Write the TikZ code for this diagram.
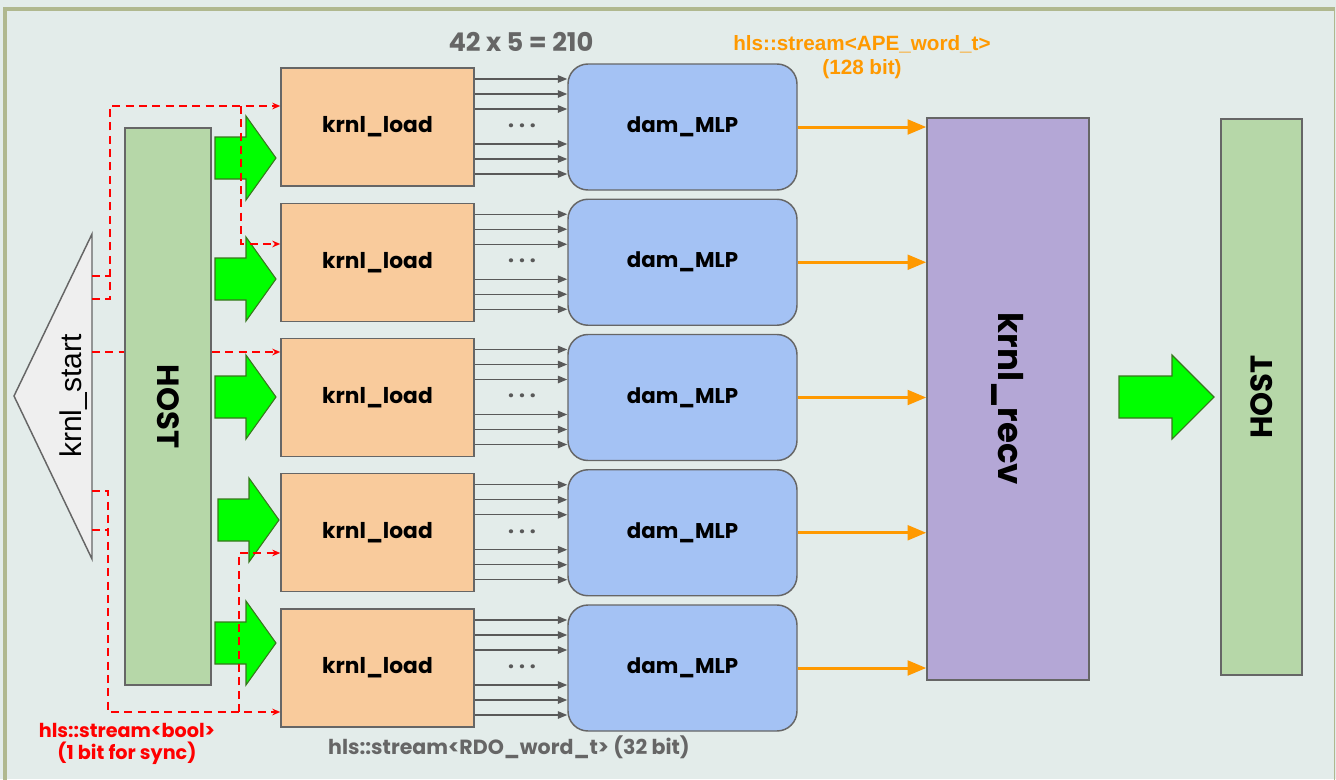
\documentclass[tikz,border=0pt]{standalone}
\usepackage{fontspec}
\usepackage{graphicx}
\newfontfamily\pop{Poppins}
\newfontfamily\lib{Liberation Sans}
\usetikzlibrary{arrows.meta,calc}
\definecolor{bgc}{HTML}{E3ECEA}
\definecolor{framec}{HTML}{B0B88F}
\definecolor{boxline}{HTML}{666666}
\definecolor{loadfill}{HTML}{F9CB9C}
\definecolor{mlpfill}{HTML}{A4C2F4}
\definecolor{recvfill}{HTML}{B4A7D6}
\definecolor{hostfill}{HTML}{B6D7A8}
\definecolor{trifill}{HTML}{EFEFEF}
\definecolor{gfill}{HTML}{00FF00}
\definecolor{gline}{HTML}{38761D}
\definecolor{sigc}{HTML}{595959}
\definecolor{apec}{HTML}{FF9900}
\definecolor{txtgray}{HTML}{666666}
\begin{document}
\begin{tikzpicture}[x=0.75pt,y=-0.75pt,
  loadbox/.style={draw=boxline, line width=1.1pt, fill=loadfill, inner sep=0pt,
    minimum width=193*0.75pt, minimum height=118*0.75pt,
    font=\pop\bfseries\fontsize{16.3}{18}\selectfont},
  mlpbox/.style={draw=boxline, line width=1.1pt, fill=mlpfill, inner sep=0pt, rounded corners=15pt,
    minimum width=229*0.75pt, minimum height=126*0.75pt,
    font=\pop\bfseries\fontsize{16}{18}\selectfont},
  hostbox/.style={draw=boxline, line width=1.1pt, fill=hostfill, inner sep=0pt,
    font=\pop\bfseries\fontsize{23}{26}\selectfont},
  recvbox/.style={draw=boxline, line width=1.1pt, fill=recvfill, inner sep=0pt,
    font=\pop\bfseries\fontsize{25.5}{28}\selectfont},
  sync/.style={draw=red, line width=1.2pt, dash pattern=on 6pt off 4pt},
  syncarrow/.style={sync, -{Stealth[length=6pt,width=5pt]}},
  sig/.style={draw=sigc, line width=1.1pt, -{Triangle[length=7pt,width=5.5pt]}},
  ape/.style={draw=apec, line width=2.25pt, -{Triangle[length=14pt,width=11pt]}},
  garrow/.style={draw=gline, line width=0.8pt, fill=gfill},
  dots/.style={text=sigc, font=\pop\bfseries\fontsize{16}{18}\selectfont},
  pics/blockarrow/.style args={#1/#2}{code={
    \draw[garrow] (0,0) -- (-#2,-42) -- (-#2,-21) -- (-#1,-21) -- (-#1,21) -- (-#2,21) -- (-#2,42) -- cycle;}}
]
\useasboundingbox (0,0) rectangle (1336,779);
\fill[bgc] (0,0) rectangle (1336,779);
\draw[framec, line width=2.6pt] (5,790) -- (5,9) -- (1334.5,9);
\draw[framec, line width=1.2pt] (1334.5,9) -- (1334.5,790);

% krnl_start triangle
\draw[boxline, line width=1.1pt, fill=trifill] (92,234) -- (14,396) -- (92,559) -- cycle;
\node[rotate=90, font=\lib\fontsize{22.5}{24}\selectfont, inner sep=0pt] (kstart) at (74,396) {krnl\_start};
\coordinate (ksA) at (92,299);
\coordinate (ksB) at (92,276);
\coordinate (ksC) at (92,352);
\coordinate (ksD) at (92,491);
\coordinate (ksE) at (92,530);

% krnl_load and dam_MLP rows
\foreach \i/\c in {1/127,2/262.25,3/397.5,4/532.75,5/668}{
  \node[loadbox] (kl\i) at (377.5,\c) {krnl\_load};
  \node[mlpbox] (dm\i) at (682.5,\c) {dam\_MLP};
  \node[dots] (dt\i) at (522,\c+1) {· · ·};
  \foreach \s in {36,24.75,13.5,-12.75,-24,-35.25}{
    \draw[sig] ([yshift=\s pt]kl\i.east) -- ([yshift=\s pt]dm\i.west);
  }
}

% krnl_recv and right HOST
\node[recvbox, minimum width=162*0.75pt, minimum height=562*0.75pt] (kr) at (1008,399) {\rotatebox{-90}{krnl\_recv}};
\node[hostbox, minimum width=81*0.75pt, minimum height=556*0.75pt] (hostR) at (1261.5,397) {\rotatebox{90}{HOST}};
\foreach \i in {1,...,5}{
  \draw[ape] (dm\i.east) -- (dm\i.east -| kr.west);
}

% green block arrows
\pic at (276,158) {blockarrow=61/30};
\pic at (276,279) {blockarrow=61/30};
\pic at (276,397) {blockarrow=61/30};
\pic at (279,520) {blockarrow=61/30};
\pic at (276,643) {blockarrow=61/30};
\pic at (1214,397) {blockarrow=95/42};

% red sync connectors
\draw[syncarrow] (ksA) -- ++(18,0) |- ([yshift=15.75pt]kl1.west);
\draw[sync] (ksB) -- ++(18,0);
\coordinate (b1) at (241,106);
\draw[syncarrow] (b1) |- ([yshift=13.7pt]kl2.west);
\draw[syncarrow] (ksC) -- (ksC -| kl3.west);
\draw[syncarrow] (ksD) -- ++(16,0) |- ([yshift=-33pt]kl5.west);
\draw[sync] (ksE) -- ++(16,0);
\coordinate (b2) at (239,712);
\draw[syncarrow] (b2) |- ([yshift=-15.2pt]kl4.west);

% left HOST (covers the sync line)
\node[hostbox, minimum width=86*0.75pt, minimum height=557*0.75pt] (hostL) at (168,406.5) {\rotatebox{-90}{HOST}};

% labels
\node[text=txtgray, font=\pop\bfseries\fontsize{19.3}{21}\selectfont] (lcount) at (521,42) {42 x 5 = 210};
\node[text=apec, font=\lib\bfseries\fontsize{15.5}{18}\selectfont, align=center] (lape) at (862,57) {hls::stream<APE\_word\_t>\\(128 bit)};
\node[text=txtgray, font=\pop\bfseries\fontsize{15.4}{17}\selectfont] (lrdo) at (509,747) {hls::stream<RDO\_word\_t> (32 bit)};
\node[text=red, font=\pop\bfseries\fontsize{14.4}{17}\selectfont, align=center] (lbool) at (127,744) {hls::stream<bool>\\(1 bit for sync)};
\end{tikzpicture}
\end{document}
